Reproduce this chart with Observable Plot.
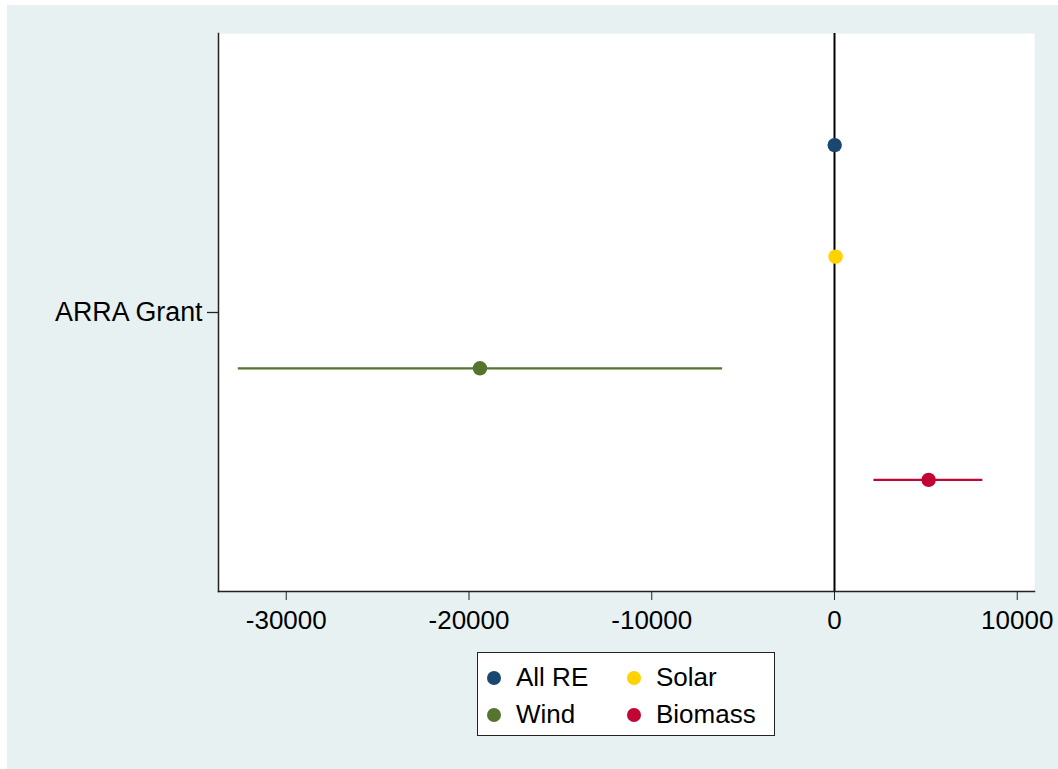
<!DOCTYPE html>
<html>
<head>
<meta charset="utf-8">
<script src="https://cdn.jsdelivr.net/npm/d3@7"></script>
<script src="https://cdn.jsdelivr.net/npm/@observablehq/plot@0.6"></script>
<style>
  html, body { margin: 0; padding: 0; background: #ffffff; }
  #wrap { position: absolute; left: 7px; top: 5px; width: 1051px; height: 764px; background: #e8f1f2; font-family: "Liberation Sans", Arial, Helvetica, sans-serif; }
  #chart svg { display: block; background: transparent; }
  #legend { position: absolute; left: 470px; top: 647px; width: 298px; height: 84px; box-sizing: border-box; border: 1.5px solid #222; background: #fff;
    display: grid; grid-template-columns: 140px 150px; grid-template-rows: 37px 37px; padding: 6px 0 0 9px; font-size: 26px; color: #000; }
  .item { display: flex; align-items: center; }
  .sw { width: 14px; height: 14px; border-radius: 50%; margin-right: 15px; flex: none; }
</style>
</head>
<body>
<div id="wrap">
  <div id="chart"></div>
  <div id="legend"></div>
</div>
<script>
const series = ["All RE", "Solar", "Wind", "Biomass"];
const colors = ["#1a476f", "#ffd200", "#55752f", "#c10534"];
const estimates = [10, 60, -19400, 5150];
const lower = [-40, 10, -32650, 2130];
const upper = [60, 110, -6150, 8090];
const positions = [1, 2, 3, 4];
const categoryLabel = "ARRA Grant";
const categoryPosition = 2.5;
const xTicks = [-30000, -20000, -10000, 0, 10000];

const rows = series.map((s, i) => ({series: s, est: estimates[i], lo: lower[i], hi: upper[i], pos: positions[i], color: colors[i]}));

const chart = Plot.plot({
  width: 1051,
  height: 764,
  marginLeft: 211,
  marginTop: 28,
  marginRight: 24,
  marginBottom: 178,
  style: {fontFamily: '"Liberation Sans", Arial, Helvetica, sans-serif', fontSize: "26px", background: "transparent", color: "#000"},
  x: {domain: [-33707, 10944]},
  y: {domain: [0, 5], reverse: true},
  marks: [
    Plot.frame({fill: "white", stroke: null}),
    Plot.ruleX([0], {stroke: "#000", strokeWidth: 2}),
    Plot.link(rows, {x1: "lo", x2: "hi", y1: "pos", y2: "pos", stroke: "color", strokeWidth: 2.2}),
    Plot.dot(rows, {x: "est", y: "pos", r: 7.2, fill: "color", stroke: null}),
    Plot.frame({anchor: "left", stroke: "#222", strokeWidth: 1.5}),
    Plot.frame({anchor: "bottom", stroke: "#222", strokeWidth: 1.5}),
    Plot.axisX({ticks: xTicks, tickFormat: d => String(d), tickSize: 9, tickPadding: 10, stroke: "#222", label: null, fontSize: 26}),
    Plot.axisY({ticks: [categoryPosition], tickFormat: () => categoryLabel, tickSize: 11, tickPadding: 5, stroke: "#222", strokeWidth: 1.3, label: null, fontSize: 26.8})
  ]
});
document.getElementById("chart").appendChild(chart);

const legend = document.getElementById("legend");
series.forEach((s, i) => {
  const div = document.createElement("div");
  div.className = "item";
  div.innerHTML = `<span class="sw" style="background:${colors[i]}"></span><span>${s}</span>`;
  legend.appendChild(div);
});
</script>
</body>
</html>
